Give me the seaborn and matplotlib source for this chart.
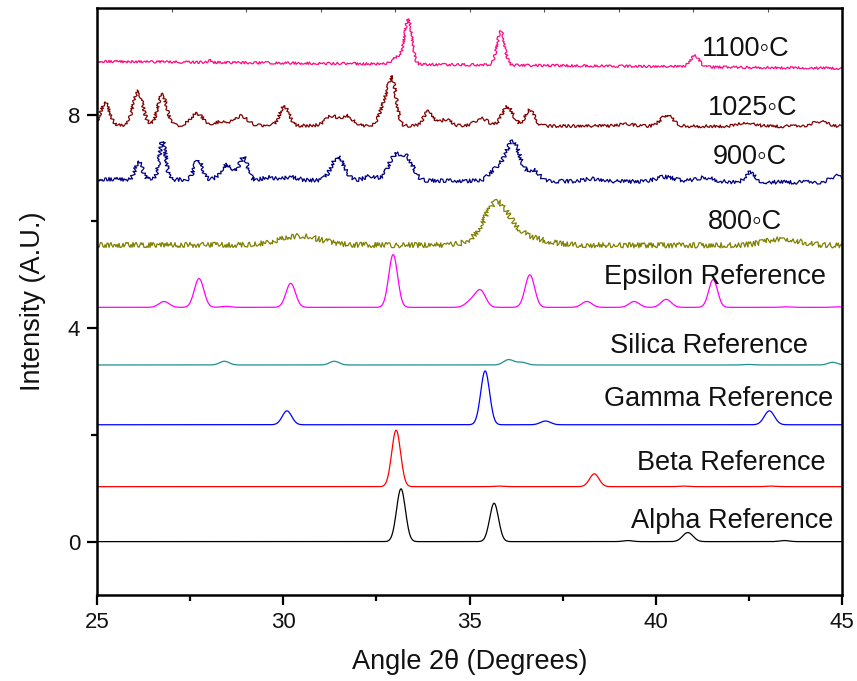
import numpy as np
import pandas as pd
import matplotlib
matplotlib.use("Agg")
import matplotlib.pyplot as plt
import seaborn as sns

# 2-theta grid (degrees)
two_theta = np.round(np.arange(25.0, 45.0001, 0.02), 3)

# ---- Reference patterns: peak position, height, FWHM, baseline offset ----
alpha_pos = [33.16, 35.66, 39.25, 40.86, 43.45]
alpha_h = [0.99, 0.72, 0.02, 0.17, 0.02]
alpha_w = [0.28, 0.28, 0.30, 0.33, 0.30]
alpha_base = 0.0

beta_pos = [33.03, 35.80, 38.35, 40.75, 43.10]
beta_h = [1.06, 0.01, 0.24, 0.01, 0.01]
beta_w = [0.28, 0.30, 0.30, 0.30, 0.30]
beta_base = 1.03

gamma_pos = [30.10, 35.42, 37.04, 43.05]
gamma_h = [0.26, 1.01, 0.07, 0.26]
gamma_w = [0.30, 0.28, 0.32, 0.32]
gamma_base = 2.19

silica_pos = [28.42, 31.37, 36.05, 36.40, 42.50, 44.75]
silica_h = [0.07, 0.07, 0.10, 0.05, 0.01, 0.05]
silica_w = [0.30, 0.30, 0.32, 0.32, 0.30, 0.30]
silica_base = 3.31

epsilon_pos = [26.80, 27.74, 28.46, 30.20, 32.95, 35.05, 35.30, 36.62,
               38.15, 39.42, 40.28, 41.54, 43.47, 44.90]
epsilon_h = [0.11, 0.54, 0.02, 0.45, 0.99, 0.12, 0.30, 0.61,
             0.11, 0.11, 0.15, 0.52, 0.01, 0.01]
epsilon_w = [0.32, 0.30, 0.30, 0.30, 0.28, 0.35, 0.32, 0.30,
             0.32, 0.32, 0.32, 0.28, 0.30, 0.30]
epsilon_base = 4.39

# ---- Annealed samples: peak position, height, FWHM, baseline at 25 and 45 deg ----
t800_pos = [30.45, 35.72, 36.10, 43.40]
t800_h = [0.17, 0.62, 0.22, 0.12]
t800_w = [1.30, 0.75, 1.60, 1.10]
t800_base = [5.56, 5.55]

t900_pos = [26.12, 26.76, 27.72, 28.50, 28.93, 29.60, 30.20, 31.46, 32.35,
            32.98, 33.32, 35.74, 36.17, 36.72, 38.30, 40.25, 41.30, 42.53, 44.85]
t900_h = [0.33, 0.72, 0.38, 0.28, 0.42, 0.05, 0.06, 0.44, 0.08,
          0.42, 0.40, 0.22, 0.72, 0.20, 0.05, 0.09, 0.08, 0.18, 0.12]
t900_w = [0.22, 0.20, 0.25, 0.40, 0.25, 0.40, 0.40, 0.40, 0.40,
          0.40, 0.40, 0.45, 0.45, 0.35, 0.50, 0.60, 0.60, 0.30, 0.40]
t900_base = [6.79, 6.73]

t1025_pos = [25.22, 26.10, 26.75, 27.68, 28.36, 28.87, 30.03, 31.30, 31.72,
             32.72, 32.93, 33.90, 34.35, 35.32, 36.02, 36.62, 39.20, 40.30,
             42.45, 44.40]
t1025_h = [0.42, 0.64, 0.58, 0.22, 0.08, 0.18, 0.36, 0.18, 0.18,
           0.40, 0.80, 0.27, 0.12, 0.14, 0.36, 0.30, 0.04, 0.20,
           0.07, 0.09]
t1025_w = [0.28, 0.30, 0.28, 0.40, 0.40, 0.40, 0.30, 0.40, 0.35,
           0.30, 0.25, 0.30, 0.35, 0.40, 0.35, 0.30, 0.50, 0.40,
           0.50, 0.50]
t1025_base = [7.80, 7.78]

t1100_pos = [28.02, 33.10, 33.36, 35.84, 41.05]
t1100_h = [0.04, 0.15, 0.83, 0.63, 0.21]
t1100_w = [0.08, 0.35, 0.22, 0.24, 0.28]
t1100_base = [9.00, 8.87]

labels = ["Alpha Reference", "Beta Reference", "Gamma Reference",
          "Silica Reference", "Epsilon Reference",
          "800\u25e6C", "900\u25e6C", "1025\u25e6C", "1100\u25e6C"]
colors = ["#000000", "#ff0000", "#0000ff", "#1f8f8f", "#ff00ff",
          "#808000", "#000080", "#800000", "#ff0a80"]
# label anchor (x centre, text baseline) in data units
label_x = [42.06, 42.03, 41.70, 41.43, 41.60, 42.40, 42.53, 42.61, 42.42]
label_y = [0.26, 1.35, 2.54, 3.53, 4.82, 5.85, 7.08, 8.00, 9.10]


def pattern(pos, h, w, base):
    """Sum of Gaussian peaks on a (linear) background."""
    x = two_theta
    if np.ndim(base) == 0:
        y = np.full_like(x, float(base))
    else:
        y = base[0] + (base[1] - base[0]) * (x - x[0]) / (x[-1] - x[0])
    for p, a, f in zip(pos, h, w):
        s = f / 2.3548
        y = y + a * np.exp(-0.5 * ((x - p) / s) ** 2)
    return y


series = [
    pattern(alpha_pos, alpha_h, alpha_w, alpha_base),
    pattern(beta_pos, beta_h, beta_w, beta_base),
    pattern(gamma_pos, gamma_h, gamma_w, gamma_base),
    pattern(silica_pos, silica_h, silica_w, silica_base),
    pattern(epsilon_pos, epsilon_h, epsilon_w, epsilon_base),
    pattern(t800_pos, t800_h, t800_w, t800_base),
    pattern(t900_pos, t900_h, t900_w, t900_base),
    pattern(t1025_pos, t1025_h, t1025_w, t1025_base),
    pattern(t1100_pos, t1100_h, t1100_w, t1100_base),
]

df = pd.concat(
    [pd.DataFrame({"angle": two_theta, "intensity": y, "pattern": lab})
     for lab, y in zip(labels, series)],
    ignore_index=True,
)

# counting-noise look for the measured scans (line rendering style)
sketch = {"800\u25e6C": (2.6, 1.4), "900\u25e6C": (1.9, 1.8),
          "1025\u25e6C": (1.5, 1.8), "1100\u25e6C": (1.2, 1.8)}

sns.set_theme(style="ticks")
plt.rcParams["font.family"] = ["Liberation Sans", "DejaVu Sans"]

fig = plt.figure(figsize=(8.57, 6.81), dpi=100)
ax = fig.add_axes([0.1132, 0.1263, 0.8693, 0.862])

for lab, col in zip(labels, colors):
    sub = df[df["pattern"] == lab]
    sns.lineplot(data=sub, x="angle", y="intensity", color=col,
                 linewidth=0.9, ax=ax, estimator=None, sort=False)
    if lab in sketch:
        sc, ln = sketch[lab]
        ax.lines[-1].set_sketch_params(scale=sc, length=ln, randomness=6)

for lab, xx, yy in zip(labels, label_x, label_y):
    ax.text(xx, yy, lab, ha="center", va="baseline", fontsize=19.5,
            color="#111111")

ax.set_xlim(25, 45)
ax.set_ylim(-1, 10)
ax.set_xticks([25, 30, 35, 40, 45])
ax.set_xticks([27.5, 32.5, 37.5, 42.5], minor=True)
ax.set_yticks([0, 4, 8])
ax.set_yticks([2, 6], minor=True)
ax.tick_params(axis="both", which="major", direction="out", length=7,
               width=1.6, labelsize=16, colors="black", pad=5)
ax.tick_params(axis="both", which="minor", direction="out", length=4,
               width=1.6, colors="black")
ax.tick_params(labelcolor="#111111")

# small inward ticks along the top frame
top = ax.secondary_xaxis("top")
top.set_xticks(np.arange(25, 46, 2))
top.tick_params(direction="in", length=3, width=0.8, labeltop=False,
                colors="#555555")
top.spines["top"].set_visible(False)

for side in ["left", "right", "top", "bottom"]:
    ax.spines[side].set_visible(True)
    ax.spines[side].set_color("black")
    ax.spines[side].set_linewidth(1.8)

ax.set_xlabel("Angle 2\u03b8 (Degrees)", fontsize=19.5, color="#111111",
              labelpad=12)
ax.set_ylabel("Intensity (A.U.)", fontsize=19.5, color="#111111",
              labelpad=16)

fig.savefig("out.png", dpi=100)
